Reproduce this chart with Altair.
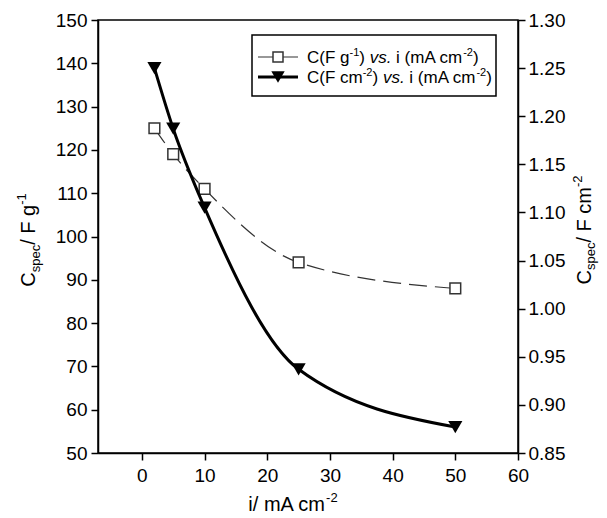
import altair as alt
import pandas as pd

# ---- data ----
current = [2, 5, 10, 25, 50]                       # i / mA cm-2
c_mass = [125, 119, 111, 94, 88]                   # C / F g-1  (left axis)
c_area = [1.250, 1.187, 1.105, 0.937, 0.877]       # C / F cm-2 (right axis)

x_ticks = [0, 10, 20, 30, 40, 50, 60]
left_ticks = [50, 60, 70, 80, 90, 100, 110, 120, 130, 140, 150]
right_ticks = [0.85, 0.90, 0.95, 1.00, 1.05, 1.10, 1.15, 1.20, 1.25, 1.30]

FONT = "Liberation Sans"
W, H = 420, 433

df = pd.DataFrame({"i": current, "cm": c_mass, "ca": c_area})
one = pd.DataFrame({"a": [0]})

xs = alt.X("i:Q", scale=alt.Scale(domain=[-7, 60], nice=False, zero=False),
           axis=alt.Axis(values=x_ticks, title=None, tickSize=7, labelPadding=6,
                         labelFlush=False))

ym_scale = alt.Scale(domain=[50, 150], nice=False, zero=False)
ya_scale = alt.Scale(domain=[0.85, 1.30], nice=False, zero=False)

sq_line = alt.Chart(df).mark_line(interpolate="monotone", color="#333",
                                  strokeWidth=1.2, strokeDash=[18, 8]).encode(
    x=xs,
    y=alt.Y("cm:Q", scale=ym_scale,
            axis=alt.Axis(values=left_ticks, orient="left", title=None, tickSize=7,
                          labelPadding=4, labelFlush=False)))
sq_pts = alt.Chart(df).mark_point(shape="square", size=115, filled=True, fill="white",
                                  stroke="#333", strokeWidth=1.5, opacity=1).encode(
    x=xs, y=alt.Y("cm:Q", scale=ym_scale, axis=None))

tri_line = alt.Chart(df).mark_line(interpolate="monotone", color="black",
                                   strokeWidth=3).encode(
    x=xs,
    y=alt.Y("ca:Q", scale=ya_scale,
            axis=alt.Axis(values=right_ticks, orient="right", title=None, format=".2f",
                          tickSize=7, labelPadding=3, labelFlush=False)))
tri_pts = alt.Chart(df).mark_point(shape="triangle-down", size=200, filled=True,
                                   color="black", opacity=1).encode(
    x=xs, y=alt.Y("ca:Q", scale=ya_scale, axis=None))

# ---- rich text helpers (super/subscripts, italics) ----
AW = {' ': 278, '(': 333, ')': 333, '/': 278, '-': 333, '.': 278, '1': 556, '2': 556,
      'A': 667, 'C': 722, 'F': 611, 'c': 500, 'e': 556, 'g': 556, 'i': 222, 'm': 833,
      'p': 556, 's': 500, 'v': 500}


def tw(s, size):
    return sum(AW.get(ch, 556) for ch in s) / 1000.0 * size


def run(pieces, x0, y0, vertical=False, center=False):
    total = sum(tw(p[0], p[1]) for p in pieces)
    pos = -total / 2 if center else 0.0
    out = []
    for text, size, shift, style in pieces:
        lead = len(text) - len(text.lstrip())
        core = text.strip()
        p = pos + tw(" " * lead, size)
        if core:
            if vertical:
                px, py, ang = x0 + shift, y0 - p, 270
            else:
                px, py, ang = x0 + p, y0 + shift, 0
            out.append(alt.Chart(one).mark_text(
                text=core, font=FONT, fontSize=size, fontStyle=style, align="left",
                baseline="alphabetic", angle=ang, color="black").encode(
                x=alt.value(px), y=alt.value(py)))
        pos += tw(text, size)
    return out


T, S = 20, 13
decor = []
# x title
decor += run([("i/ mA cm", T, 0, "normal"), ("-2", S, -9, "normal")], 195, 491, center=True)
# left y title
decor += run([("C", T, 0, "normal"), ("spec", S, 5, "normal"), ("/ F g", T, 0, "normal"),
              ("-1", S, -9, "normal")], -63, 220, vertical=True, center=True)
# right y title
decor += run([("C", T, 0, "normal"), ("spec", S, 4, "normal"), ("/ F cm", T, 0, "normal"),
              ("-2", S, -9, "normal")], 493, 210, vertical=True, center=True)

# legend box
decor.append(alt.Chart(one).mark_rect(fill="white", stroke="black", strokeWidth=1.5).encode(
    x=alt.value(154), x2=alt.value(398), y=alt.value(15), y2=alt.value(76)))
# legend samples
decor.append(alt.Chart(one).mark_rule(color="#333", strokeWidth=1.2).encode(
    x=alt.value(160), x2=alt.value(200), y=alt.value(37)))
decor.append(alt.Chart(one).mark_point(shape="square", size=100, filled=True, fill="white",
                                       stroke="#333", strokeWidth=1.5, opacity=1).encode(
    x=alt.value(180), y=alt.value(37)))
decor.append(alt.Chart(one).mark_rule(color="black", strokeWidth=3).encode(
    x=alt.value(160), x2=alt.value(200), y=alt.value(57)))
decor.append(alt.Chart(one).mark_point(shape="triangle-down", size=180, filled=True,
                                       color="black", opacity=1).encode(
    x=alt.value(180), y=alt.value(57)))

L = 17
LS = 11
decor += run([("C(F g", L, 0, "normal"), ("-1", LS, -7, "normal"), (") ", L, 0, "normal"),
              ("vs.", L, 0, "italic"), (" i (mA cm", L, 0, "normal"), ("-2", LS, -7, "normal"),
              (")", L, 0, "normal")], 209, 43)
decor += run([("C(F cm", L, 0, "normal"), ("-2", LS, -7, "normal"), (") ", L, 0, "normal"),
              ("vs.", L, 0, "italic"), (" i (mA cm", L, 0, "normal"), ("-2", LS, -7, "normal"),
              (")", L, 0, "normal")], 209, 63)

chart = alt.layer(sq_line, sq_pts, tri_line, tri_pts, *decor).resolve_scale(
    y="independent"
).properties(
    width=W, height=H,
    autosize=alt.AutoSizeParams(type="none"),
    padding={"left": 90, "top": 12, "right": 81, "bottom": 62},
).configure_axis(
    labelFont=FONT, labelFontSize=19, labelColor="black", domainColor="black",
    tickColor="black", grid=False, domainWidth=1.5, tickWidth=1.5, labelOverlap=False
).configure_view(stroke="black", strokeWidth=1.5)

chart.save("out.html", embed_options={"renderer": "svg", "actions": False})
